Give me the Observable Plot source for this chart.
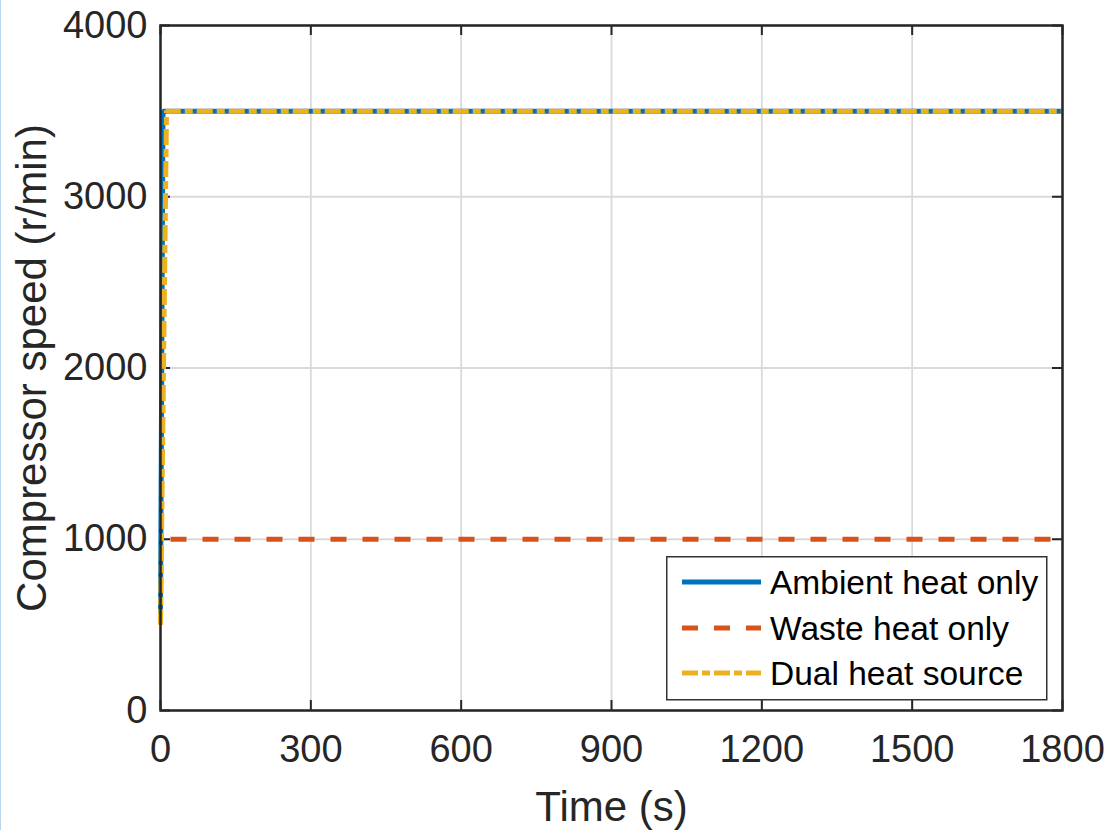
<!DOCTYPE html>
<html>
<head>
<meta charset="utf-8">
<script src="https://cdn.jsdelivr.net/npm/d3@7"></script>
<script src="https://cdn.jsdelivr.net/npm/@observablehq/plot@0.6"></script>
<style>
  html, body { margin: 0; padding: 0; background: #fff; }
  #wrap { position: relative; width: 1109px; height: 830px; overflow: hidden; }
  #edge { position: absolute; left: 0; top: 0; width: 1px; height: 830px; background: #b8d5ec; }
  #legend { position: absolute; left: 666px; top: 556px; }
</style>
</head>
<body>
<div id="wrap"><div id="edge"></div></div>
<script>
// ---- data ----
const seriesNames = ["Ambient heat only", "Waste heat only", "Dual heat source"];
const seriesColors = ["#0072BD", "#D95319", "#EDB120"];
const seriesDash = ["none", "16,16", "16,4,8,4"];

const ambientTime = [0, 5, 1800];
const ambientSpeed = [560, 3500, 3500];

const wasteTime = [0, 1800];
const wasteSpeed = [1000, 1000];

const dualTime = [0, 12, 1800];
const dualSpeed = [500, 3500, 3500];

const xTicks = [0, 300, 600, 900, 1200, 1500, 1800];
const yTicks = [0, 1000, 2000, 3000, 4000];

const xLabel = "Time (s)";
const yLabel = "Compressor speed (r/min)";

// ---- build ----
const toRows = (t, v) => t.map((d, i) => ({t: d, v: v[i]}));
const ambient = toRows(ambientTime, ambientSpeed);
const waste = toRows(wasteTime, wasteSpeed);
const dual = toRows(dualTime, dualSpeed);

const W = 1109, H = 830;
const mL = 160, mR = 47, mT = 25, mB = 120;
const fw = W - mL - mR, fh = H - mT - mB;
const tickLen = 10;
const axisColor = "#262626";
const font = "'Liberation Sans', Arial, Helvetica, sans-serif";
const plain = d => String(d);

const chart = Plot.plot({
  width: W,
  height: H,
  marginLeft: mL, marginRight: mR, marginTop: mT, marginBottom: mB,
  style: {fontFamily: font, background: "#fff", color: axisColor},
  x: {domain: [0, 1800]},
  y: {domain: [0, 4000]},
  marks: [
    Plot.gridX(xTicks, {stroke: "#dadada", strokeOpacity: 1, strokeWidth: 1.8}),
    Plot.gridY(yTicks, {stroke: "#dadada", strokeOpacity: 1, strokeWidth: 1.8}),
    // inward ticks on all four sides
    Plot.tickY(yTicks, {y: d => d, insetRight: fw - tickLen, stroke: axisColor, strokeWidth: 2}),
    Plot.tickY(yTicks, {y: d => d, insetLeft: fw - tickLen, stroke: axisColor, strokeWidth: 2}),
    Plot.tickX(xTicks, {x: d => d, insetTop: fh - tickLen, stroke: axisColor, strokeWidth: 2}),
    Plot.tickX(xTicks, {x: d => d, insetBottom: fh - tickLen, stroke: axisColor, strokeWidth: 2}),
    Plot.line(ambient, {x: "t", y: "v", stroke: seriesColors[0], strokeWidth: 5, strokeLinecap: "butt", strokeLinejoin: "miter"}),
    Plot.line(waste, {x: "t", y: "v", stroke: seriesColors[1], strokeWidth: 5, strokeDasharray: seriesDash[1], strokeDashoffset: 22, strokeLinecap: "butt"}),
    Plot.line(dual, {x: "t", y: "v", stroke: seriesColors[2], strokeWidth: 5, strokeDasharray: seriesDash[2], strokeLinecap: "butt", strokeLinejoin: "miter"}),
    Plot.frame({stroke: axisColor, strokeWidth: 2.5}),
    Plot.axisX(xTicks, {tickSize: 0, tickPadding: 25, fontSize: 38, label: null, fill: axisColor, tickFormat: plain}),
    Plot.axisY(yTicks, {tickSize: 0, tickPadding: 13, fontSize: 38, label: null, fill: axisColor, tickFormat: plain}),
    Plot.text([xLabel], {frameAnchor: "bottom", text: d => d, dy: 110, lineAnchor: "bottom", textAnchor: "middle", fontSize: 42, fill: axisColor}),
    Plot.text([yLabel], {frameAnchor: "left", text: d => d, dx: -115, rotate: -90, lineAnchor: "bottom", textAnchor: "middle", fontSize: 42, fill: axisColor})
  ]
});
document.getElementById("wrap").appendChild(chart);

// ---- legend ----
const ns = "http://www.w3.org/2000/svg";
const lg = document.createElementNS(ns, "svg");
lg.setAttribute("id", "legend");
lg.setAttribute("width", 382);
lg.setAttribute("height", 145);
const box = document.createElementNS(ns, "rect");
box.setAttribute("x", 0.75); box.setAttribute("y", 0.75);
box.setAttribute("width", 380); box.setAttribute("height", 143);
box.setAttribute("fill", "#fff"); box.setAttribute("stroke", "#333"); box.setAttribute("stroke-width", 1.5);
lg.appendChild(box);
const rowY = [26, 72, 117];
seriesNames.forEach((name, i) => {
  const ln = document.createElementNS(ns, "line");
  ln.setAttribute("x1", 16); ln.setAttribute("x2", 95);
  ln.setAttribute("y1", rowY[i]); ln.setAttribute("y2", rowY[i]);
  ln.setAttribute("stroke", seriesColors[i]); ln.setAttribute("stroke-width", 5);
  if (seriesDash[i] !== "none") ln.setAttribute("stroke-dasharray", seriesDash[i]);
  lg.appendChild(ln);
  const tx = document.createElementNS(ns, "text");
  tx.setAttribute("x", 104); tx.setAttribute("y", rowY[i] + 12);
  tx.setAttribute("font-family", "Liberation Sans, Arial, sans-serif");
  tx.setAttribute("font-size", 33.5);
  tx.setAttribute("fill", "#000");
  tx.textContent = name;
  lg.appendChild(tx);
});
document.getElementById("wrap").appendChild(lg);
</script>
</body>
</html>
